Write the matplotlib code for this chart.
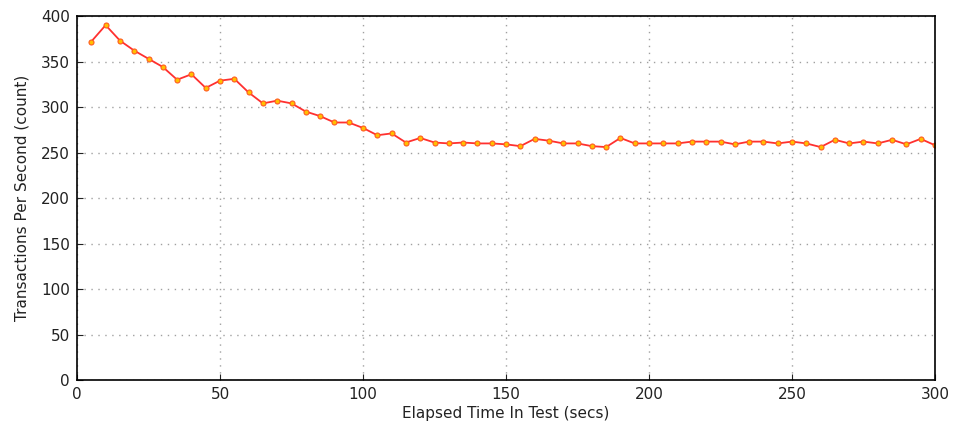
import matplotlib
matplotlib.use("Agg")
import matplotlib.pyplot as plt

elapsed = list(range(5, 305, 5))
tps = [372, 390, 373, 362, 353, 344, 330, 336, 321, 329, 331, 316, 304, 307, 304,
       295, 290, 283, 283, 277, 269, 271, 261, 266, 261, 260, 261, 260, 260, 259,
       257, 265, 263, 260, 260, 257, 256, 266, 260, 260, 260, 260, 262, 262, 262,
       259, 262, 262, 260, 262, 260, 256, 264, 260, 262, 260, 264, 259, 265, 258]

xticks = [0, 50, 100, 150, 200, 250, 300]
yticks = [0, 50, 100, 150, 200, 250, 300, 350, 400]

fig = plt.figure(figsize=(9.57, 4.22), dpi=100)
ax = fig.add_axes([0.0805, 0.0995, 0.8965, 0.8625])
ax.plot(elapsed, tps, color="#ff3030", lw=1.3, marker="o", markersize=3.6,
        markerfacecolor="#ffc000", markeredgecolor="#ff5a20", markeredgewidth=0.8)
ax.set_xlim(0, 300)
ax.set_ylim(0, 400)
ax.set_xticks(xticks)
ax.set_yticks(yticks)
ax.grid(True, color="#a0a0a0", linestyle=(0, (1, 4)), linewidth=1)
ax.tick_params(direction="in", length=4, labelsize=11, colors="#222222", pad=5)
for s in ax.spines.values():
    s.set_linewidth(1.2)
ax.set_xlabel("Elapsed Time In Test (secs)", fontsize=11, color="#222222", labelpad=3)
ax.set_ylabel("Transactions Per Second (count)", fontsize=11, color="#222222", labelpad=8)
fig.savefig("out.png", dpi=100)
